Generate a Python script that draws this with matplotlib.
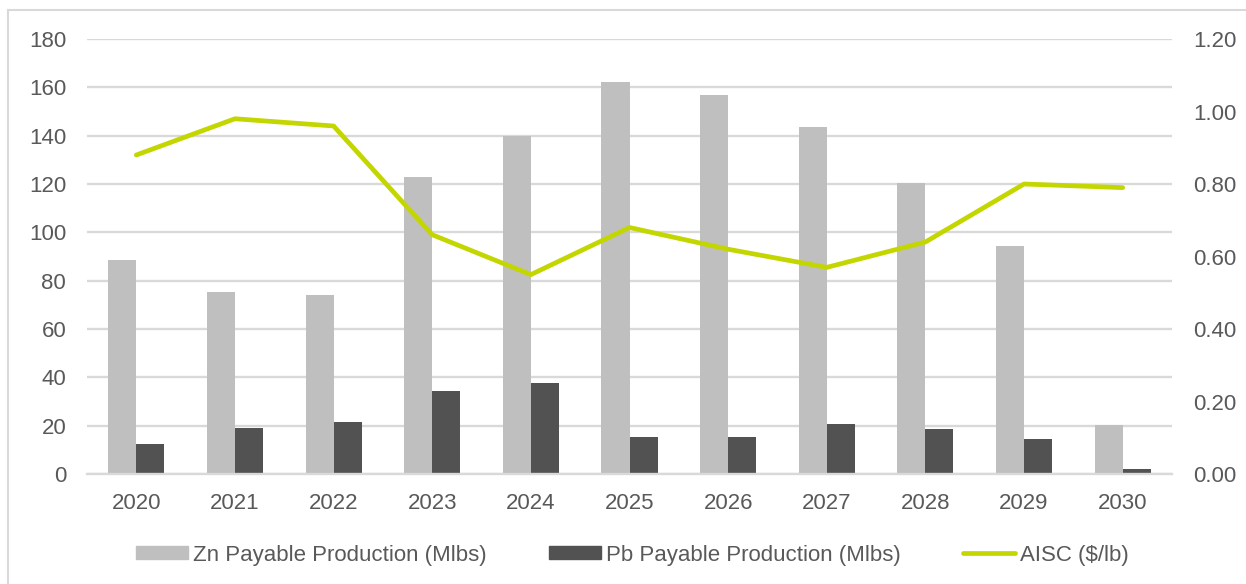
import numpy as np
import matplotlib
matplotlib.use("Agg")
import matplotlib.pyplot as plt
from matplotlib.patches import Patch, Rectangle
from matplotlib.lines import Line2D
from matplotlib.legend_handler import HandlerPatch

plt.rcParams["font.family"] = ["Liberation Sans", "DejaVu Sans"]

# ---------- data ----------
years = ["2020", "2021", "2022", "2023", "2024", "2025",
         "2026", "2027", "2028", "2029", "2030"]
zn_payable = [88.5, 75.5, 74.0, 122.8, 140.0, 162.0, 157.0, 143.5, 120.5, 94.5, 20.3]
pb_payable = [12.5, 19.0, 21.5, 34.5, 37.5, 15.5, 15.5, 20.5, 18.5, 14.5, 2.0]
aisc = [0.88, 0.98, 0.96, 0.66, 0.55, 0.68, 0.62, 0.57, 0.64, 0.80, 0.79]

left_ticks = [0, 20, 40, 60, 80, 100, 120, 140, 160, 180]
right_ticks = [0.0, 0.2, 0.4, 0.6, 0.8, 1.0, 1.2]

# ---------- style ----------
col_zn = "#BFBFBF"
col_pb = "#525252"
col_aisc = "#C4D600"
grid_col = "#D9D9D9"
text_col = "#595959"
fs = 16

W, H = 1246, 584
fig = plt.figure(figsize=(W / 100, H / 100), dpi=100)
ax = fig.add_axes([87 / W, 110 / H, (1172 - 87) / W, 435 / H])

# chart border (light frame, only top/left visible)
fig.add_artist(Line2D([8 / W, 8 / W], [0, 1 - 10 / H], color=grid_col, lw=1.5))
fig.add_artist(Line2D([8 / W, 1], [1 - 10 / H, 1 - 10 / H], color=grid_col, lw=1.5))

x = np.arange(len(years))
w = 0.284

ax.bar(x - w / 2, zn_payable, width=w, color=col_zn, zorder=2)
ax.bar(x + w / 2, pb_payable, width=w, color=col_pb, zorder=2)

ax.set_xlim(-0.5, len(years) - 0.5)
ax.set_ylim(0, 180)
ax.set_yticks(left_ticks)
ax.set_xticks(x)
ax.set_xticklabels(years)
ax.yaxis.grid(True, color=grid_col, linewidth=1.7, zorder=0)
ax.set_axisbelow(True)
for s in ("top", "right", "left"):
    ax.spines[s].set_visible(False)
ax.spines["bottom"].set_color(grid_col)
ax.spines["bottom"].set_linewidth(1.7)
ax.tick_params(axis="both", length=0, labelsize=fs, colors=text_col)
ax.tick_params(axis="y", pad=15)
ax.tick_params(axis="x", pad=14)

ax2 = ax.twinx()
ax2.plot(x, aisc, color=col_aisc, lw=3.4, solid_capstyle="round",
         solid_joinstyle="round", zorder=3)
ax2.set_ylim(0, 1.2)
ax2.set_yticks(right_ticks)
ax2.set_yticklabels([f"{v:.2f}" for v in right_ticks])
for s in ("top", "right", "left", "bottom"):
    ax2.spines[s].set_visible(False)
ax2.tick_params(axis="y", length=0, labelsize=fs, colors=text_col, pad=15)


# legend: patches drawn as flat rectangles
def _flat_rect(legend, orig_handle, xdescent, ydescent, width, height, fontsize):
    return Rectangle((-xdescent, -ydescent + height * 0.05), width, height * 0.9)


handles = [
    Patch(color=col_zn, label="Zn Payable Production (Mlbs)"),
    Patch(color=col_pb, label="Pb Payable Production (Mlbs)"),
    Line2D([], [], color=col_aisc, lw=3.4, solid_capstyle="round",
           label="AISC ($/lb)"),
]
leg = fig.legend(
    handles=handles,
    loc="center",
    bbox_to_anchor=(632 / W, 29 / H),
    ncol=3,
    frameon=False,
    fontsize=fs,
    handlelength=2.35,
    handleheight=0.6,
    handletextpad=0.22,
    columnspacing=2.8,
    handler_map={Patch: HandlerPatch(patch_func=_flat_rect)},
)
for t in leg.get_texts():
    t.set_color(text_col)

fig.savefig("out.png", dpi=100)
